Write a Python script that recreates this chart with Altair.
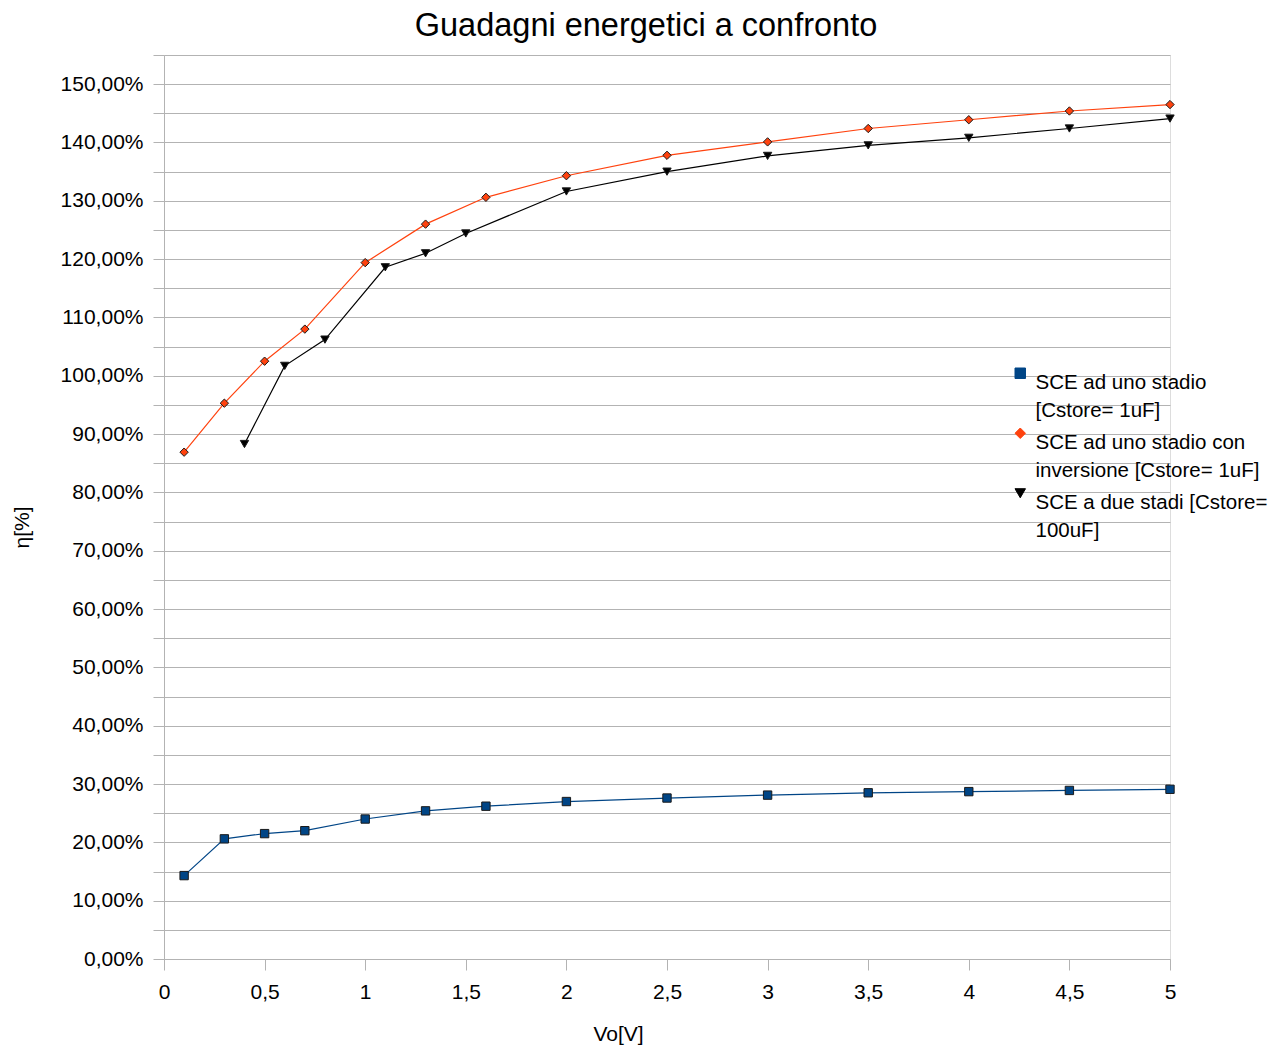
import altair as alt
import pandas as pd

FONT = "Liberation Sans"

series_names = [
    "SCE ad uno stadio\n[Cstore= 1uF]",
    "SCE ad uno stadio con\ninversione [Cstore= 1uF]",
    "SCE a due stadi [Cstore=\n100uF]",
]

x_one = [0.1, 0.3, 0.5, 0.7, 1.0, 1.3, 1.6, 2.0, 2.5, 3.0, 3.5, 4.0, 4.5, 5.0]
y_one = [14.3, 20.6, 21.5, 22.0, 24.0, 25.4, 26.2, 27.0, 27.6, 28.1, 28.5, 28.7, 28.9, 29.1]

x_inv = [0.1, 0.3, 0.5, 0.7, 1.0, 1.3, 1.6, 2.0, 2.5, 3.0, 3.5, 4.0, 4.5, 5.0]
y_inv = [86.9, 95.3, 102.5, 108.0, 119.4, 126.0, 130.6, 134.3, 137.8, 140.1, 142.4, 143.9, 145.4, 146.5]

x_two = [0.4, 0.6, 0.8, 1.1, 1.3, 1.5, 2.0, 2.5, 3.0, 3.5, 4.0, 4.5, 5.0]
y_two = [88.3, 101.7, 106.2, 118.6, 121.0, 124.4, 131.6, 135.0, 137.7, 139.5, 140.8, 142.4, 144.1]

x_ticks = [0, 0.5, 1, 1.5, 2, 2.5, 3, 3.5, 4, 4.5, 5]
y_ticks = list(range(0, 160, 5))

colors = ["#004586", "#ff420e", "#000000"]
shapes = ["square", "diamond", "triangle-down"]

rows = []
for name, xs, ys in zip(series_names, [x_one, x_inv, x_two], [y_one, y_inv, y_two]):
    for xv, yv in zip(xs, ys):
        rows.append({"serie": name, "Vo": xv, "eta": yv})
df = pd.DataFrame(rows)

color_scale = alt.Scale(domain=series_names, range=colors)
shape_scale = alt.Scale(domain=series_names, range=shapes)

legend = alt.Legend(
    title=None,
    orient="none",
    legendX=846,
    legendY=308,
    labelExpr="split(datum.label, '\\n')",
    labelFont=FONT,
    labelFontSize=20.5,
    labelColor="#000000",
    labelLimit=400,
    labelBaseline="top",
    labelOffset=5,
    symbolSize=110,
    symbolStrokeWidth=1,
    symbolStrokeColor="#1a1a1a",
    rowPadding=1,
    padding=0,
)

x_enc = alt.X(
    "Vo:Q",
    scale=alt.Scale(domain=[0, 5], nice=False, zero=False),
    axis=alt.Axis(
        values=x_ticks,
        labelExpr="replace(toString(datum.value), '.', ',')",
        labelFlush=False,
        grid=False,
        tickSize=11,
        labelPadding=11,
        labelFont=FONT,
        labelFontSize=21,
        labelColor="#000000",
        domainColor="#b3b3b3",
        tickColor="#b3b3b3",
        title="Vo[V]",
        titleFont=FONT,
        titleFontSize=21,
        titleFontWeight="normal",
        titleColor="#000000",
        titleX=454,
        titleY=81,
        titleAlign="center",
        titleBaseline="alphabetic",
    ),
)
y_enc = alt.Y(
    "eta:Q",
    scale=alt.Scale(domain=[0, 155], nice=False),
    axis=alt.Axis(
        values=y_ticks,
        labelExpr="datum.value % 10 == 0 ? replace(format(datum.value, '.2f'), '.', ',') + '%' : ''",
        labelFlush=False,
        grid=True,
        gridColor="#b3b3b3",
        gridWidth=1,
        tickSize=11,
        labelPadding=10,
        labelFont=FONT,
        labelFontSize=21,
        labelColor="#000000",
        domainColor="#b3b3b3",
        tickColor="#b3b3b3",
        title="η[%]",
        titleFont=FONT,
        titleFontSize=21,
        titleFontWeight="normal",
        titleColor="#000000",
        titleAngle=270,
        titleX=-142,
        titleY=472,
        titleAlign="center",
        titleBaseline="middle",
    ),
)

base = alt.Chart(df)

lines = base.mark_line(strokeWidth=1.2).encode(
    x=x_enc,
    y=y_enc,
    color=alt.Color("serie:N", scale=color_scale, legend=legend, sort=series_names),
    detail="serie:N",
)

points = base.mark_point(filled=True, stroke="#1a1a1a", strokeWidth=1, opacity=1).encode(
    x=x_enc,
    y=y_enc,
    color=alt.Color("serie:N", scale=color_scale, legend=legend, sort=series_names),
    shape=alt.Shape("serie:N", scale=shape_scale, legend=legend, sort=series_names),
    size=alt.value(70),
)

chart = alt.layer(lines, points).properties(
    width=1006,
    height=904,
    title=alt.TitleParams(
        text="Guadagni energetici a confronto",
        font=FONT,
        fontSize=32.5,
        fontWeight="normal",
        color="#000000",
        anchor="middle",
        frame="group",
        dx=-21,
        offset=12,
    ),
    autosize=alt.AutoSizeParams(type="none"),
    padding={"left": 156, "top": 47, "right": 101, "bottom": 86},
).configure_view(stroke="#b3b3b3", strokeWidth=1).configure(
    style={"guide-label": {"lineHeight": 28}}
)

chart.save("out.html", embed_options={"renderer": "svg", "actions": False})
